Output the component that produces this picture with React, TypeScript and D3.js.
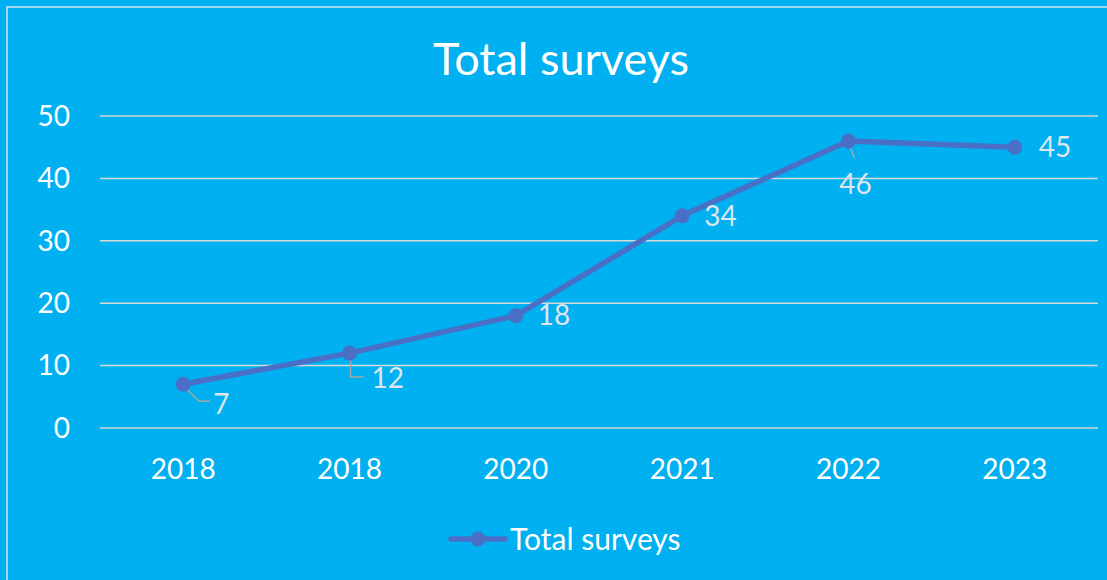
import React from "react";
import * as d3 from "d3";

const categories = ["2018", "2018", "2020", "2021", "2022", "2023"];
const values = [7, 12, 18, 34, 46, 45];
const yTicks = [0, 10, 20, 30, 40, 50];
const seriesName = "Total surveys";
const title = "Total surveys";
const labelPos = ["leader7", "leader12", "r", "r", "leader46", "r"];

const W = 1107;
const H = 580;
const FONT = "Lato, 'Open Sans', sans-serif";

export default function App() {
  const left = 100;
  const right = 1098;
  const x = d3
    .scaleBand<number>()
    .domain(d3.range(categories.length))
    .range([left, right]);
  const y = d3.scaleLinear().domain([0, 50]).range([428, 116]);
  const cx = (i: number) => (x(i) as number) + x.bandwidth() / 2;
  const line = d3
    .line<number>()
    .x((_, i) => cx(i))
    .y((d) => y(d));

  const lineColor = "#4A6FC6";
  const labelColor = "#DDE6EE";
  const leaderColor = "#A6A6A6";

  return (
    <svg
      width={W}
      height={H}
      style={{ position: "absolute", left: 0, top: 0, display: "block" }}
      fontFamily={FONT}
    >
      <rect x={0} y={0} width={W} height={H} fill="#00B0F0" />
      <rect
        x={7}
        y={7}
        width={W + 20}
        height={H + 20}
        fill="none"
        stroke="#D6E6F0"
        strokeWidth={1.5}
      />
      <text x={561} y={75} textAnchor="middle" fill="#FFFFFF" fontSize={45}>
        {title}
      </text>
      {yTicks.map((t) => (
        <g key={t}>
          <line
            x1={left}
            x2={right}
            y1={y(t)}
            y2={y(t)}
            stroke="#D9D9D9"
            strokeWidth={1.5}
          />
          <text
            x={70}
            y={y(t)}
            dy="0.35em"
            textAnchor="end"
            fill="#FFFFFF"
            fontSize={28}
          >
            {t}
          </text>
        </g>
      ))}
      {categories.map((c, i) => (
        <text
          key={i}
          x={cx(i)}
          y={469}
          dy="0.35em"
          textAnchor="middle"
          fill="#FFFFFF"
          fontSize={28}
        >
          {c}
        </text>
      ))}
      {values.map((v, i) => {
        const px = cx(i);
        const py = y(v);
        const p = labelPos[i];
        if (p === "leader7")
          return (
            <polyline
              key={i}
              points={`${px + 2},${py + 3} ${px + 16},${py + 17} ${px + 27},${py + 17}`}
              fill="none"
              stroke={leaderColor}
              strokeWidth={1.5}
            />
          );
        if (p === "leader12")
          return (
            <polyline
              key={i}
              points={`${px + 1},${py + 2} ${px + 1},${py + 24} ${px + 14},${py + 24}`}
              fill="none"
              stroke={leaderColor}
              strokeWidth={1.5}
            />
          );
        if (p === "leader46")
          return (
            <line
              key={i}
              x1={px}
              y1={py + 2}
              x2={px + 6}
              y2={py + 17}
              stroke={leaderColor}
              strokeWidth={1.5}
            />
          );
        return null;
      })}
      <path
        d={line(values) || ""}
        fill="none"
        stroke={lineColor}
        strokeWidth={5.5}
        strokeLinejoin="round"
      />
      {values.map((v, i) => (
        <circle key={i} cx={cx(i)} cy={y(v)} r={7.5} fill={lineColor} />
      ))}
      {values.map((v, i) => {
        const px = cx(i);
        const py = y(v);
        const p = labelPos[i];
        let lx = px + 22;
        let ly = py;
        let anchor: "start" | "middle" = "start";
        if (p === "leader7") {
          lx = px + 30;
          ly = py + 20;
        } else if (p === "leader12") {
          lx = px + 22;
          ly = py + 25;
        } else if (p === "leader46") {
          lx = px + 7;
          ly = py + 43;
          anchor = "middle";
        } else if (i === 5) {
          lx = px + 24;
        }
        return (
          <text
            key={i}
            x={lx}
            y={ly}
            dy="0.35em"
            textAnchor={anchor}
            fill={labelColor}
            fontSize={28}
          >
            {v}
          </text>
        );
      })}
      <line
        x1={451}
        x2={505}
        y1={539}
        y2={539}
        stroke={lineColor}
        strokeWidth={5.5}
        strokeLinecap="round"
      />
      <circle cx={478} cy={539} r={7.5} fill={lineColor} />
      <text x={510} y={539} dy="0.35em" fill="#FFFFFF" fontSize={30}>
        {seriesName}
      </text>
    </svg>
  );
}
